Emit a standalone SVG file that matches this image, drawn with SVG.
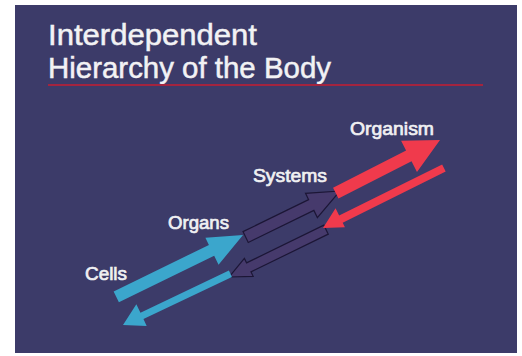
<svg xmlns="http://www.w3.org/2000/svg" width="522" height="356" viewBox="0 0 522 356">
<style>
.title{font-family:"Liberation Sans",Arial,sans-serif;font-size:29px;fill:#f2f2f4;stroke:#f2f2f4;stroke-width:0.5}
.lbl{font-family:"Liberation Sans",Arial,sans-serif;font-size:19px;fill:#f0f0f2;stroke:#f0f0f2;stroke-width:0.7}
.cyan{fill:#3ba6cc}
.red{fill:#f03a4c}
.purple{fill:#463a6c;stroke:#1c1636;stroke-width:1.2}
</style>
<rect x="0" y="0" width="522" height="356" fill="#ffffff"/>
<rect x="15" y="5" width="502" height="348" fill="#3c3b69"/>
<g id="title">
<text class="title" x="48" y="45" textLength="209" lengthAdjust="spacingAndGlyphs">Interdependent</text>
<text class="title" x="48" y="78" textLength="283" lengthAdjust="spacingAndGlyphs">Hierarchy of the Body</text>
<rect x="48" y="84" width="435" height="2" fill="#a3243f"/>
</g>
<g id="connectors">
<polygon class="purple" transform="translate(340,191) rotate(-26)" points="0,0 -32,-13 -32,-6 -105,-6 -105,6 -32,6 -32,14"/>
<polygon class="purple" transform="translate(229,277) rotate(154)" points="0,0 -22,-10 -22,-5 -108,-5 -108,5 -22,5 -22,10"/>
<polygon class="cyan" transform="translate(243,235) rotate(-26)" points="0,0 -35,-14 -35,-6 -141,-6 -141,6 -35,6 -35,16"/>
<polygon class="cyan" transform="translate(123,325) rotate(154.5)" points="0,0 -21,-11 -21,-3.5 -119,-3.5 -119,3.5 -21,3.5 -21,13"/>
<polygon class="red" transform="translate(440,140) rotate(-27)" points="0,0 -35,-17 -35,-6 -117,-6 -117,6 -35,6 -35,18"/>
<polygon class="red" transform="translate(323,228) rotate(153.6)" points="0,0 -20,-9 -20,-4 -135,-4 -135,4 -20,4 -20,12"/>
</g>
<g id="cells"><text class="lbl" x="85" y="280" textLength="42" lengthAdjust="spacingAndGlyphs">Cells</text></g>
<g id="organs"><text class="lbl" x="168" y="229" textLength="61" lengthAdjust="spacingAndGlyphs">Organs</text></g>
<g id="systems"><text class="lbl" x="253" y="182" textLength="74" lengthAdjust="spacingAndGlyphs">Systems</text></g>
<g id="organism"><text class="lbl" x="350" y="135" textLength="84" lengthAdjust="spacingAndGlyphs">Organism</text></g>
</svg>
